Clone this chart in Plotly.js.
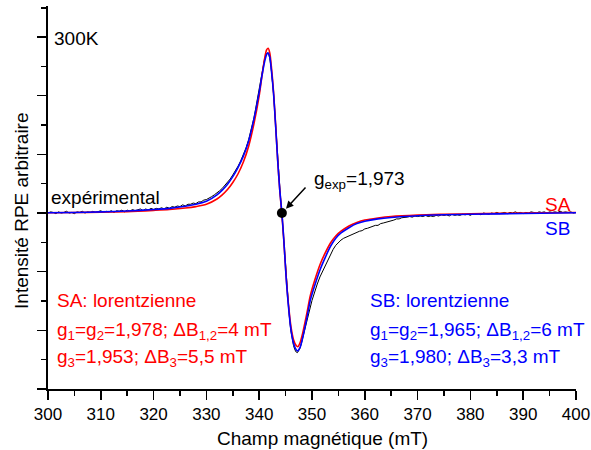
<!DOCTYPE html>
<html>
<head>
<meta charset="utf-8">
<script src="https://cdn.plot.ly/plotly-3.0.1.min.js"></script>
<style>html,body{margin:0;padding:0;background:#fff;}#chart{width:591px;height:450px;}</style>
</head>
<body>
<div id="chart"></div>
<script>
// Experimental spectrum (field in mT, arbitrary intensity)
const expField = [300,300.5,301,301.5,302,302.5,303,303.5,304,304.5,305,305.5,306,306.5,307,307.5,308,308.5,309,309.5,
310,310.5,311,311.5,312,312.5,313,313.5,314,314.5,315,315.5,316,316.5,317,317.5,318,318.5,319,319.5,
320,320.5,321,321.5,322,322.5,323,323.5,324,324.5,325,325.5,326,326.5,327,327.5,328,328.5,329,329.5,
330,330.5,331,331.5,332,332.5,333,333.5,334,334.5,335,335.5,336,336.5,337,337.5,338,338.5,
339,339.25,339.5,339.75,340,340.25,340.5,340.75,341,341.25,341.5,341.75,342,342.25,342.5,342.75,
343,343.25,343.5,343.75,344,344.25,344.5,344.75,345,345.25,345.5,345.75,346,346.25,346.5,346.75,
347,347.25,347.5,347.75,348,348.5,349,349.5,350,350.5,351,351.5,352,352.5,353,353.5,354,354.5,
355,355.5,356,356.5,357,357.5,358,358.5,359,359.5,360,360.5,361,361.5,362,362.5,363,363.5,364,364.5,
365,365.5,366,366.5,367,367.5,368,368.5,369,369.5,370,370.5,371,371.5,372,372.5,373,373.5,374,374.5,
375,375.5,376,376.5,377,377.5,378,378.5,379,379.5,380,380.5,381,381.5,382,382.5,383,383.5,384,384.5,
385,385.5,386,386.5,387,387.5,388,388.5,389,389.5,390,390.5,391,391.5,392,392.5,393,393.5,394,394.5,
395,395.5,396,396.5,397,397.5,398,398.5,399,399.5,400];
const expSignal = [0.00,0.02,0.01,-0.01,0.02,0.00,0.01,0.03,0.00,0.01,-0.01,0.02,0.01,0.03,0.00,0.02,0.01,0.03,0.01,0.02,
0.04,0.01,0.03,0.02,0.04,0.01,0.04,0.03,0.05,0.02,0.05,0.03,0.06,0.04,0.05,0.07,0.04,0.07,0.05,0.08,
0.06,0.08,0.07,0.09,0.07,0.10,0.08,0.11,0.10,0.12,0.11,0.14,0.12,0.15,0.15,0.17,0.16,0.19,0.19,0.22,
0.23,0.25,0.28,0.31,0.34,0.38,0.42,0.47,0.52,0.58,0.65,0.72,0.80,0.89,0.99,1.11,1.25,1.42,
1.62,1.74,1.87,2.01,2.14,2.28,2.41,2.53,2.62,2.69,2.73,2.72,2.64,2.48,2.27,2.00,
1.66,1.29,0.92,0.59,0.30,0.04,-0.26,-0.59,-0.97,-1.30,-1.58,-1.81,-2.01,-2.15,-2.26,-2.33,
-2.37,-2.38,-2.35,-2.30,-2.22,-2.05,-1.86,-1.67,-1.49,-1.34,-1.21,-1.09,-0.99,-0.89,-0.79,-0.70,-0.62,-0.55,
-0.50,-0.46,-0.43,-0.41,-0.38,-0.37,-0.35,-0.33,-0.31,-0.30,-0.27,-0.26,-0.24,-0.23,-0.21,-0.21,-0.18,-0.17,-0.16,-0.14,
-0.13,-0.12,-0.10,-0.10,-0.08,-0.08,-0.07,-0.06,-0.07,-0.05,-0.06,-0.05,-0.06,-0.04,-0.06,-0.05,-0.06,-0.04,-0.05,-0.03,
-0.04,-0.03,-0.05,-0.02,-0.04,-0.03,-0.04,-0.02,-0.03,-0.02,-0.04,-0.01,-0.02,-0.01,-0.03,0.00,-0.01,-0.02,0.00,-0.01,
0.01,-0.01,0.00,0.01,-0.01,0.01,0.00,0.02,0.00,0.01,-0.01,0.01,0.00,0.02,0.01,0.00,0.02,0.01,0.02,0.00,
0.02,0.01,0.02,0.01,0.03,0.01,0.02,0.01,0.02,0.00,0.01];

// Simulation SA (red)
const saField = [300,305,310,315,320,323,326,328,330,332,333,334,335,336,337,338,339,340,340.5,341,341.4,341.7,342,342.3,342.7,
343.1,343.5,343.9,344.3,344.7,345.1,345.5,346,346.5,347,347.3,347.7,348.2,349,349.7,350.5,351.6,352.5,353.5,354.5,355.5,
357,358.5,360,362.5,365,370,375,380,390,400];
const saSignal = [0.005,0.008,0.015,0.025,0.045,0.06,0.085,0.11,0.15,0.24,0.31,0.40,0.52,0.67,0.87,1.14,1.52,2.00,2.32,2.62,2.78,2.81,2.73,2.50,2.08,
1.52,0.90,0.38,-0.02,-0.52,-1.08,-1.52,-1.93,-2.16,-2.26,-2.28,-2.22,-2.06,-1.72,-1.40,-1.15,-0.86,-0.68,-0.51,-0.39,-0.31,
-0.22,-0.16,-0.12,-0.085,-0.06,-0.035,-0.022,-0.012,0.0,0.01];

// Simulation SB (blue)
const sbField = [300,305,310,315,320,323,326,328,330,332,333,334,335,336,337,338,339,340,340.5,341,341.4,341.7,342,342.3,342.7,
343.1,343.5,343.9,344.3,344.7,345.1,345.5,346,346.5,347,347.3,347.7,348.2,349,349.7,350.5,351.6,352.5,353.5,354.5,355.5,
357,358.5,360,362.5,365,370,375,380,390,400];
const sbSignal = [0.005,0.01,0.02,0.035,0.06,0.08,0.115,0.15,0.20,0.31,0.39,0.49,0.62,0.78,0.97,1.23,1.60,2.06,2.33,2.57,2.70,2.73,2.66,2.44,2.06,
1.50,0.90,0.39,0.0,-0.51,-1.10,-1.55,-1.98,-2.22,-2.33,-2.35,-2.30,-2.14,-1.80,-1.48,-1.24,-0.95,-0.76,-0.57,-0.43,-0.34,
-0.25,-0.18,-0.14,-0.10,-0.075,-0.045,-0.03,-0.02,-0.008,0.005];

// g_exp point
const gField = [344.3];
const gSignal = [0];

const xTicks = [300,310,320,330,340,350,360,370,380,390,400];
const xTickLabels = ['300','310','320','330','340','350','360','370','380','390','400'];

const FONT = 'Liberation Sans, Arial, sans-serif';

const traces = [
  {x: expField, y: expSignal, type: 'scatter', mode: 'lines', line: {color: 'black', width: 1}, name: 'expérimental'},
  {x: saField, y: saSignal, type: 'scatter', mode: 'lines', line: {color: '#ff0000', width: 1.6, shape: 'spline', smoothing: 0.8}, name: 'SA'},
  {x: sbField, y: sbSignal, type: 'scatter', mode: 'lines', line: {color: '#0000ff', width: 1.6, shape: 'spline', smoothing: 0.8}, name: 'SB'},
  {x: gField, y: gSignal, type: 'scatter', mode: 'markers', marker: {color: 'black', size: 10}, name: 'g_exp'}
];

const layout = {
  width: 591, height: 450,
  margin: {l: 48, r: 15, t: 6, b: 61},
  paper_bgcolor: 'white', plot_bgcolor: 'white',
  showlegend: false,
  font: {family: FONT, size: 17, color: 'black'},
  xaxis: {
    range: [300, 400], tickvals: xTicks, ticktext: xTickLabels,
    ticks: 'outside', ticklen: 9, tickwidth: 1.5, tickcolor: 'black',
    showline: true, linecolor: 'black', linewidth: 2, showgrid: false, zeroline: false,
    tickfont: {family: FONT, size: 17, color: 'black'},
    minor: {dtick: 5, tick0: 300, ticks: 'outside', ticklen: 5, tickwidth: 1.5, tickcolor: 'black', showgrid: false},
    title: {text: '&nbsp;&nbsp;&nbsp;&nbsp;Champ magnétique (mT)', font: {family: FONT, size: 19, color: 'black'}, standoff: 8}
  },
  yaxis: {
    range: [-3, 3.53], dtick: 1, tick0: 0, showticklabels: false,
    ticks: 'outside', ticklen: 9, tickwidth: 1.5, tickcolor: 'black',
    showline: true, linecolor: 'black', linewidth: 2, showgrid: false, zeroline: false,
    minor: {dtick: 0.5, tick0: 0, ticks: 'outside', ticklen: 5, tickwidth: 1.5, tickcolor: 'black', showgrid: false},
    title: {text: 'Intensité RPE arbitraire&nbsp;&nbsp;&nbsp;&nbsp;&nbsp;', font: {family: FONT, size: 19, color: 'black'}, standoff: 3}
  },
  annotations: [
    {x: 300.76, y: 2.97, xref: 'x', yref: 'y', text: '300K', showarrow: false, xanchor: 'left', yanchor: 'middle', font: {family: FONT, size: 19, color: 'black'}},
    {x: 300.19, y: 0.26, xref: 'x', yref: 'y', text: 'expérimental', showarrow: false, xanchor: 'left', yanchor: 'middle', font: {family: FONT, size: 19, color: 'black'}},
    {x: 349.94, y: 0.56, xref: 'x', yref: 'y', text: 'g<sub>exp</sub>=1,973', showarrow: false, xanchor: 'left', yanchor: 'middle', font: {family: FONT, size: 19, color: 'black'}},
    {x: gField[0], y: gSignal[0], xref: 'x', yref: 'y', text: '', showarrow: true, ax: 25, ay: -27, arrowhead: 2, arrowsize: 1, arrowwidth: 1.5, arrowcolor: 'black', standoff: 6},
    {x: 393.75, y: 0.15, xref: 'x', yref: 'y', text: 'SA', showarrow: false, xanchor: 'left', yanchor: 'middle', font: {family: FONT, size: 19, color: '#ff0000'}},
    {x: 393.75, y: -0.26, xref: 'x', yref: 'y', text: 'SB', showarrow: false, xanchor: 'left', yanchor: 'middle', font: {family: FONT, size: 19, color: '#0000ff'}},
    {x: 301.33, y: -1.49, xref: 'x', yref: 'y', text: 'SA: lorentzienne', showarrow: false, xanchor: 'left', yanchor: 'middle', font: {family: FONT, size: 19, color: '#ff0000'}},
    {x: 301.33, y: -2.01, xref: 'x', yref: 'y', text: 'g<sub>1</sub>=g<sub>2</sub>=1,978; ΔB<sub>1,2</sub>=4 mT', showarrow: false, xanchor: 'left', yanchor: 'middle', font: {family: FONT, size: 19, color: '#ff0000'}},
    {x: 301.33, y: -2.47, xref: 'x', yref: 'y', text: 'g<sub>3</sub>=1,953; ΔB<sub>3</sub>=5,5 mT', showarrow: false, xanchor: 'left', yanchor: 'middle', font: {family: FONT, size: 19, color: '#ff0000'}},
    {x: 360.6, y: -1.49, xref: 'x', yref: 'y', text: 'SB: lorentzienne', showarrow: false, xanchor: 'left', yanchor: 'middle', font: {family: FONT, size: 19, color: '#0000ff'}},
    {x: 360.6, y: -2.01, xref: 'x', yref: 'y', text: 'g<sub>1</sub>=g<sub>2</sub>=1,965; ΔB<sub>1,2</sub>=6 mT', showarrow: false, xanchor: 'left', yanchor: 'middle', font: {family: FONT, size: 19, color: '#0000ff'}},
    {x: 360.6, y: -2.47, xref: 'x', yref: 'y', text: 'g<sub>3</sub>=1,980; ΔB<sub>3</sub>=3,3 mT', showarrow: false, xanchor: 'left', yanchor: 'middle', font: {family: FONT, size: 19, color: '#0000ff'}}
  ]
};

Plotly.newPlot('chart', traces, layout, {staticPlot: true, displayModeBar: false});
</script>
</body>
</html>
